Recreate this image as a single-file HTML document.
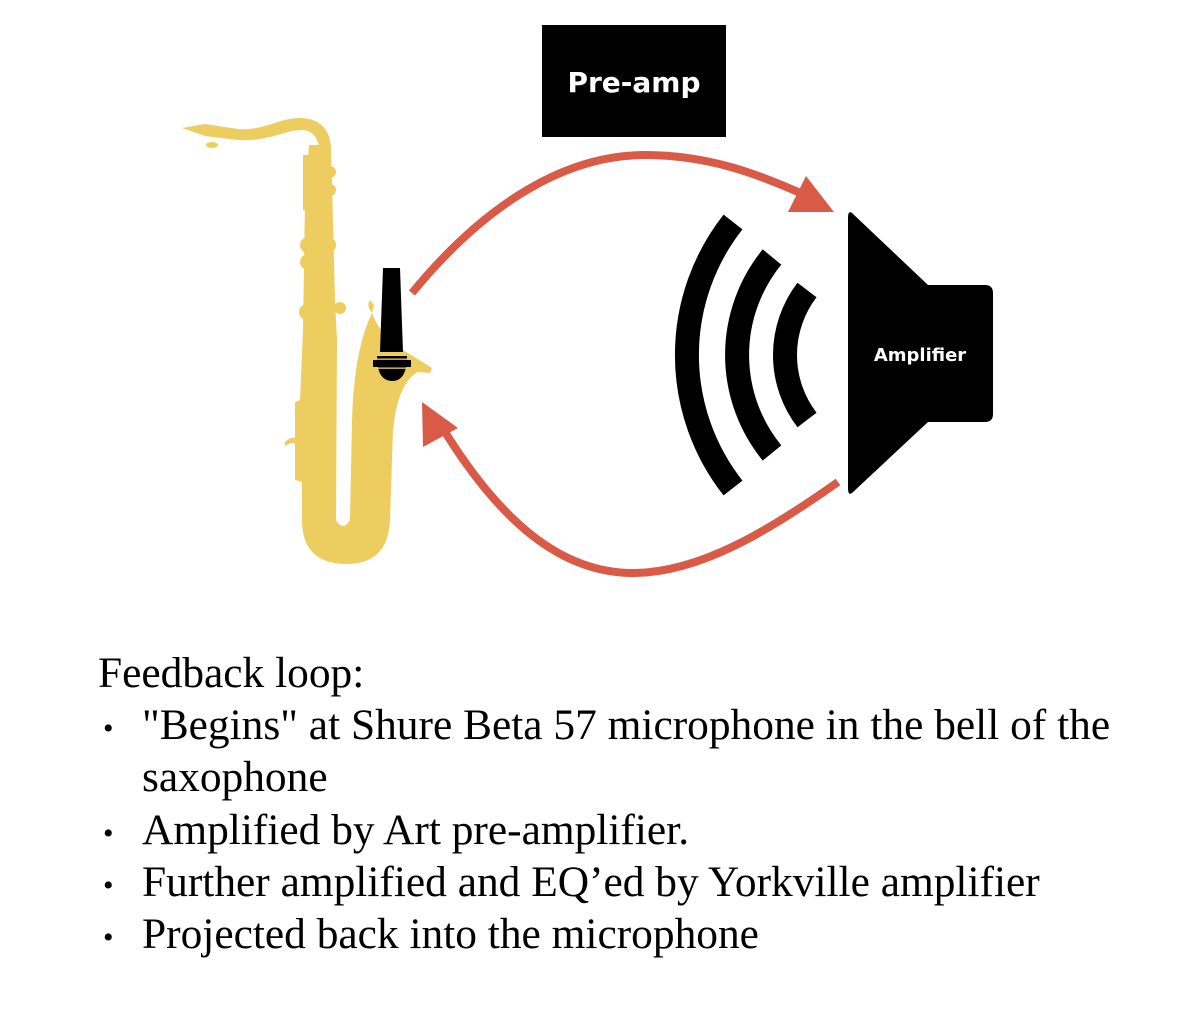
<!DOCTYPE html>
<html><head><meta charset="utf-8"><style>
html,body{margin:0;padding:0;background:#fff;}
body{width:1182px;height:1016px;position:relative;overflow:hidden;}
svg{position:absolute;left:0;top:0;}
.t{position:absolute;font-family:"Liberation Serif",serif;font-size:43.4px;color:#000;line-height:52px;white-space:nowrap;}
.b{font-size:30px;}
</style></head><body>
<svg width="1182" height="1016" viewBox="0 0 1182 1016">
  <rect x="542" y="25" width="184" height="112" fill="#000"/>
  <text x="634" y="92" fill="#fff" font-family="DejaVu Sans, sans-serif" font-weight="bold" font-size="28" text-anchor="middle">Pre-amp</text>

  <g fill="#eecd60" stroke="none">
    <path d="M182 128 L205 124 L238 129 C265 131 280 117 302 118 C322 119 331 132 331 150 L320 152 C319 138 312 130 302 130 C284 130 268 142 238 140 L205 136 Z"/>
    <ellipse cx="212" cy="145" rx="6" ry="3"/>
    <path d="M309 145 L331 145 L335 300 L337 340 L336 520 Q343 532 350 520 L352 420 Q354 350 372 313 Q378 330 395 345 L432 368 L430 373 L418 372 Q398 382 393 430 L390 520 Q388 565 345 564 Q302 563 302 520 L302 482 L295 480 L295 402 L300 400 L303 330 L305 200 Z"/>
    <circle cx="308" cy="245" r="8"/>
    <circle cx="308" cy="262" r="8"/>
    <circle cx="328" cy="245" r="8"/>
    <circle cx="327" cy="262" r="7"/>
    <circle cx="307" cy="312" r="8"/>
    <circle cx="340" cy="308" r="6"/>
    <circle cx="330" cy="172" r="6"/>
    <circle cx="330" cy="190" r="6"/>
    <rect x="303" y="155" width="6" height="55"/>
    <path d="M284 443 Q292 434 300 440 L300 446 Q292 440 286 446 Z"/>
    <path d="M372 313 Q366 306 370 300 L374 305 Z"/>
  </g>
  <polygon points="383,268 400,268 403,352 380,352" fill="#000"/>
  <path d="M377 356 L407 356 Q407 381 392 381 Q377 381 377 356 Z" fill="#000"/>
  <rect x="373" y="360" width="38" height="7" fill="#000"/>
  <rect x="376" y="358.5" width="32" height="1.3" fill="#eecd60"/>
  <rect x="376" y="367.5" width="32" height="1.3" fill="#eecd60"/>

  <g stroke="#d95b47" stroke-width="8" fill="none">
    <path d="M412 293 C480 210 560 155 645 155 C710 155 760 175 805 195"/>
    <path d="M838 482 C770 530 700 573 633 573 C560 573 500 520 445 432"/>
  </g>
  <polygon points="834,212 788,212 806,176" fill="#d95b47"/>
  <polygon points="422,402 423,447 458,428" fill="#d95b47"/>

  <g stroke="#000" fill="none" stroke-width="24">
    <path d="M733 222 A215 215 0 0 0 733 488"/>
    <path d="M772 257 A155 155 0 0 0 772 453"/>
    <path d="M807 290 A107 107 0 0 0 807 420"/>
  </g>
  <path d="M852 213 L928 285 L985 285 Q993 285 993 293 L993 414 Q993 422 985 422 L928 422 L852 493 Q848 496 848 488 L848 218 Q848 210 852 213 Z" fill="#000"/>
  <text x="920" y="361" fill="#fff" font-family="DejaVu Sans, sans-serif" font-weight="bold" font-size="18" text-anchor="middle">Amplifier</text>
</svg>

<div class="t" style="left:98px;top:647px;">Feedback loop:</div>
<div class="t b" style="left:103px;top:703px;">•</div>
<div class="t" style="left:142px;top:699px;">"Begins" at Shure Beta 57 microphone in the bell of the</div>
<div class="t" style="left:142px;top:751px;">saxophone</div>
<div class="t b" style="left:103px;top:808px;">•</div>
<div class="t" style="left:142px;top:804px;">Amplified by Art pre-amplifier.</div>
<div class="t b" style="left:103px;top:860px;">•</div>
<div class="t" style="left:142px;top:856px;">Further amplified and EQ’ed by Yorkville amplifier</div>
<div class="t b" style="left:103px;top:912px;">•</div>
<div class="t" style="left:142px;top:908px;">Projected back into the microphone</div>
</body></html>
